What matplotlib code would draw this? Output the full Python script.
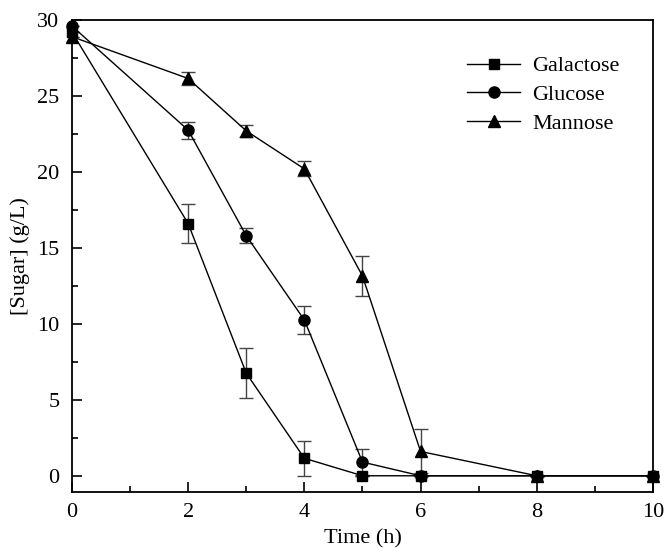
import numpy as np
import matplotlib
matplotlib.use('Agg')
import matplotlib.pyplot as plt

plt.rcParams['font.family'] = ['Liberation Serif', 'DejaVu Serif']

# sugar consumption over time (g/L)
time_h = [0, 2, 3, 4, 5, 6, 8, 10]
galactose = [29.2, 16.6, 6.75, 1.15, 0.0, 0.0, 0.0, 0.0]
galactose_err = [0.0, 1.28, 1.63, 1.15, 0.0, 0.0, 0.0, 0.0]
glucose = [29.6, 22.75, 15.8, 10.25, 0.9, 0.0, 0.0, 0.0]
glucose_err = [0.0, 0.55, 0.5, 0.95, 0.85, 0.0, 0.0, 0.0]
mannose = [28.9, 26.15, 22.7, 20.2, 13.15, 1.6, 0.0, 0.0]
mannose_err = [0.0, 0.45, 0.4, 0.5, 1.3, 1.45, 0.0, 0.0]

fig = plt.figure(figsize=(6.64, 5.48), dpi=100)
ax = fig.add_axes([0.1084, 0.1027, 0.875, 0.8608])

series = [
    ('Galactose', galactose, galactose_err, 's', 7),
    ('Glucose', glucose, glucose_err, 'o', 8),
    ('Mannose', mannose, mannose_err, '^', 8),
]
for name, y, err, mk, ms in series:
    ax.errorbar(time_h, y, yerr=err, fmt='none', ecolor='#444444',
                elinewidth=1.0, capsize=5, capthick=1.0, zorder=2)
    ax.plot(time_h, y, color='black', marker=mk, markersize=ms,
            linewidth=1.0, label=name, clip_on=False, zorder=3)

ax.set_xlim(0, 10)
ax.set_ylim(-1.05, 30)
ax.set_xticks([0, 2, 4, 6, 8, 10])
ax.set_xticks([1, 3, 5, 7, 9], minor=True)
ax.set_yticks([0, 5, 10, 15, 20, 25, 30])
ax.set_yticks(np.arange(2.5, 30, 5), minor=True)
ax.tick_params(which='both', direction='in', width=1.2, labelsize=16)
ax.tick_params(axis='x', which='major', pad=8)
ax.tick_params(axis='y', which='major', pad=9)
ax.tick_params(which='major', length=7)
ax.tick_params(which='minor', length=4)
for s in ax.spines.values():
    s.set_linewidth(1.3)

ax.set_xlabel('Time (h)', fontsize=16, labelpad=5)
ax.set_ylabel('[Sugar] (g/L)', fontsize=16, labelpad=5)

ax.legend(loc='upper left', bbox_to_anchor=(0.68, 0.924), frameon=False,
          fontsize=16, handlelength=2.4, handletextpad=0.55, labelspacing=0.37,
          borderaxespad=0, borderpad=0)

fig.savefig('out.png', dpi=100)
